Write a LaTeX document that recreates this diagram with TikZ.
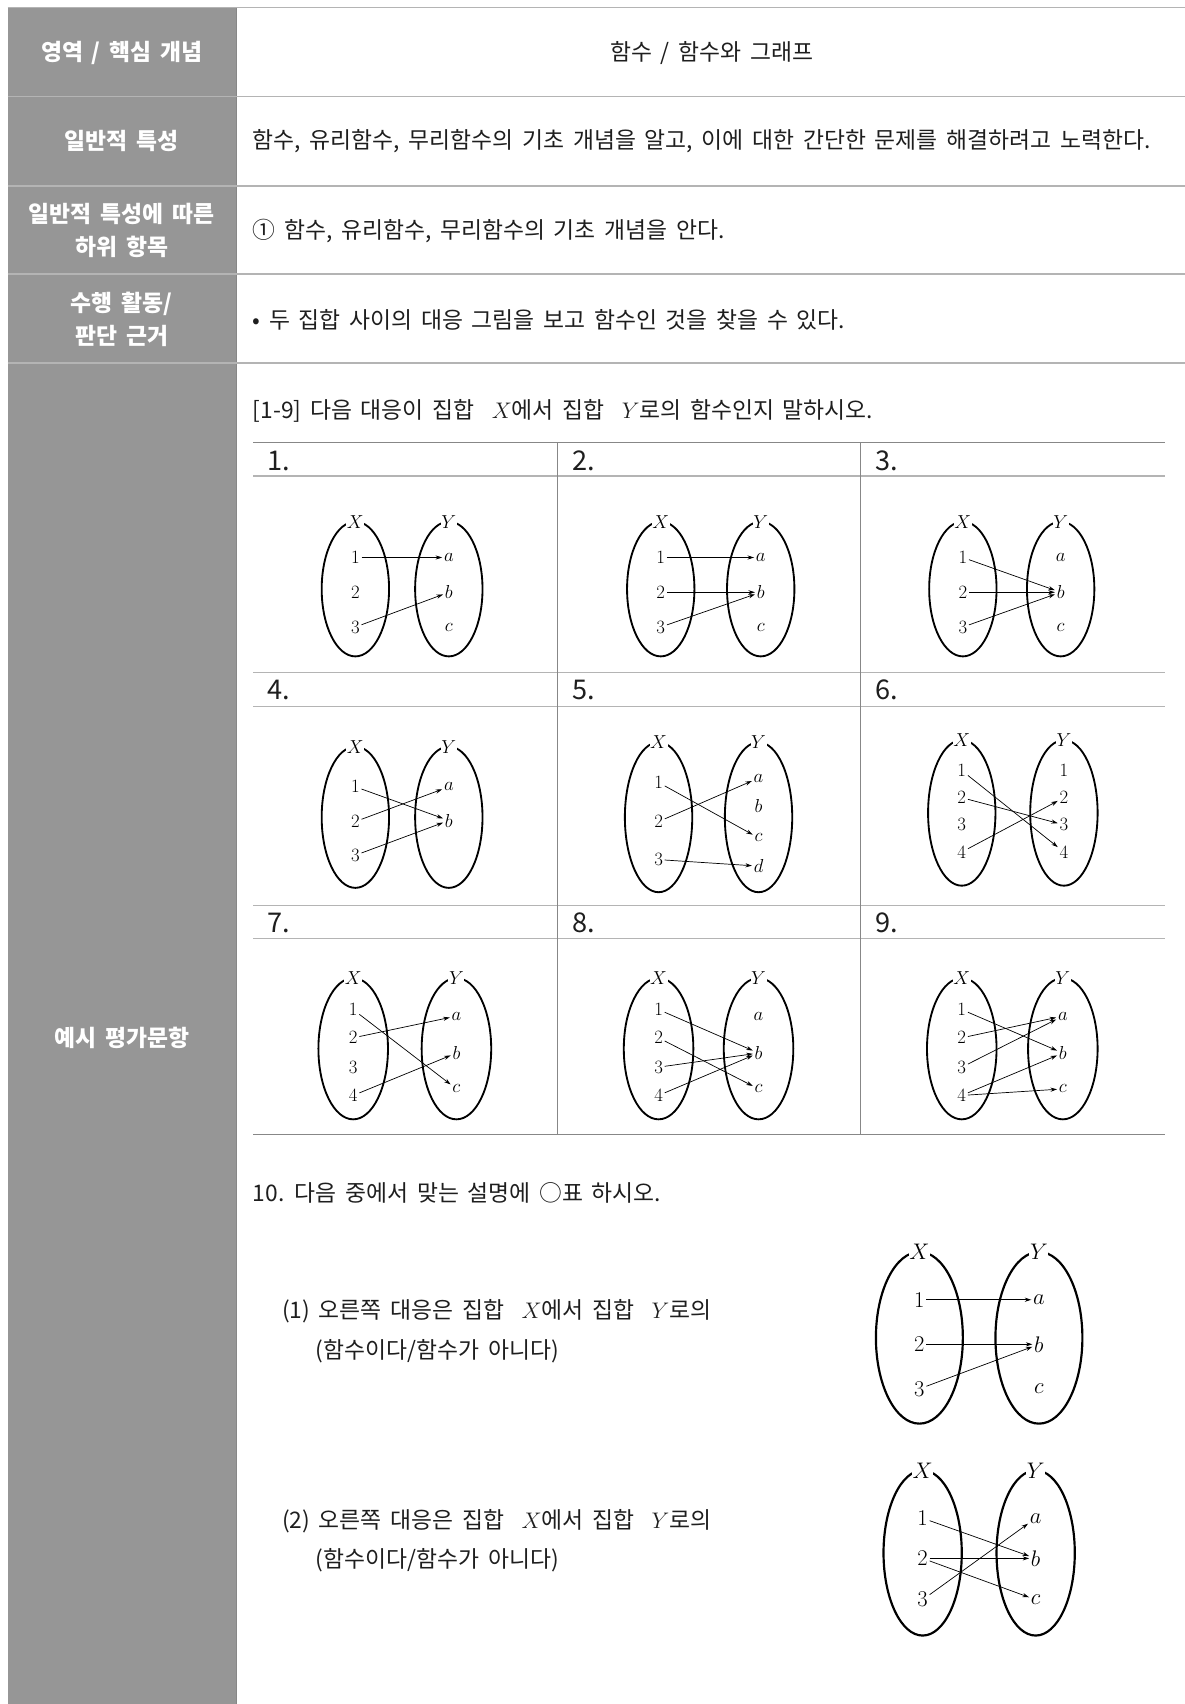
\documentclass[tikz,border=0pt]{standalone}
\usepackage[no-math]{fontspec}
\setmainfont[WordSpace=1.7]{Noto Sans CJK KR}
\usepackage{xcolor}
\usetikzlibrary{arrows.meta}

\definecolor{hdrgray}{RGB}{150,150,150}
\definecolor{rulegray}{RGB}{180,180,180}
\definecolor{gridgray}{RGB}{135,135,135}
\definecolor{inkgray}{RGB}{30,30,30}

% one pair of sets X, Y drawn as ellipses
\newcommand{\setpair}[6]{%
  \draw[setline] (#2,#4) ellipse ({#5} and {#6});
  \draw[setline] (#3,#4) ellipse ({#5} and {#6});
  \node[setname] (#1X) at (#2,#4-#6) {$X$};
  \node[setname] (#1Y) at (#3,#4-#6) {$Y$};}
\newcommand{\elems}[3]{\foreach \lbl/\yy in {#3} {\node[elem] (#1\lbl) at (#2,\yy) {$\lbl$};}}
\newcommand{\maps}[2]{\foreach \src/\dst in {#2} {\draw[maparr] (#1x\src) -- (#1y\dst);}}

\begin{document}
\begin{tikzpicture}[x=1pt, y=-1pt,
  hdr/.style={text=white, align=center, font=\fontsize{21}{30}\selectfont\bfseries},
  body/.style={anchor=west, text=inkgray, font=\fontsize{21}{25}\selectfont},
  num/.style={anchor=west, text=inkgray, font=\fontsize{25}{29}\selectfont},
  rowline/.style={draw=rulegray, line width=1.4pt},
  gridline/.style={draw=rulegray, line width=1pt},
  gridedge/.style={draw=gridgray, line width=1.3pt},
  setline/.style={line width=1.7pt},
  setname/.style={fill=white, inner sep=0.6pt, font=\fontsize{16}{18}\selectfont},
  elem/.style={inner sep=1.5pt, font=\fontsize{16.5}{18}\selectfont},
  maparr/.style={-{Stealth[length=6pt,width=3.8pt]}, line width=0.65pt},
]
\useasboundingbox (0,0) rectangle (1090,1568);

% header column
\fill[hdrgray] (7,7) rectangle (218,1568);
\draw[gridgray, line width=0.8pt] (218,7) -- (218,1568);
\draw[rowline] (7,7) -- (1090,7);
\foreach \yy in {89,171,252,334} {\draw[rowline] (7,\yy) -- (1090,\yy);}

\node[hdr] (area)  at (112,49)  {영역 / 핵심 개념};
\node[hdr] (gen)   at (112,130) {일반적 특성};
\node[hdr] (sub)   at (112,212) {일반적 특성에 따른\\하위 항목};
\node[hdr] (act)   at (112,294) {수행 활동/\\판단 근거};
\node[hdr] (ex)    at (112,955) {예시 평가문항};

\node[body, anchor=center] (topic) at (655,49) {함수 / 함수와 그래프};
\node[body] (gentxt) at (229,130) {함수, 유리함수, 무리함수의 기초 개념을 알고, 이에 대한 간단한 문제를 해결하려고 노력한다.};
\node[body] (subtxt) at (229,213) {① 함수, 유리함수, 무리함수의 기초 개념을 안다.};
\node[body] (acttxt) at (229,294) {• 두 집합 사이의 대응 그림을 보고 함수인 것을 찾을 수 있다.};

% questions 1-9
\node[body] (q19) at (229,378) {[1-9] 다음 대응이 집합 \ $X$에서 집합 \ $Y$로의 함수인지 말하시오.};
\draw[gridedge] (233,407) -- (1072,407);
\foreach \yy in {438,619,650,833,864} {\draw[gridline] (233,\yy) -- (1072,\yy);}
\draw[gridedge, line width=1.6pt] (233,1044) -- (1072,1044);
\draw[gridedge, line width=1pt] (513,407) -- (513,1044);
\draw[gridedge, line width=1pt] (792,407) -- (792,1044);

\node[num] (n1) at (243,424) {1.};
\node[num] (n2) at (523,424) {2.};
\node[num] (n3) at (802,424) {3.};
\node[num] (n4) at (243,635) {4.};
\node[num] (n5) at (523,635) {5.};
\node[num] (n6) at (802,635) {6.};
\node[num] (n7) at (243,849) {7.};
\node[num] (n8) at (523,849) {8.};
\node[num] (n9) at (802,849) {9.};

\setpair{d1}{327}{413}{542}{31}{62}
\elems{d1x}{327}{1/513,2/545,3/577}
\elems{d1y}{413}{a/513,b/545,c/577}
\maps{d1}{1/a,3/b}

\setpair{d2}{608}{700}{542}{31}{62}
\elems{d2x}{608}{1/513,2/545,3/577}
\elems{d2y}{700}{a/513,b/545,c/577}
\maps{d2}{1/a,2/b,3/b}

\setpair{d3}{886}{976}{542}{31}{62}
\elems{d3x}{886}{1/513,2/545,3/577}
\elems{d3y}{976}{a/513,b/545,c/577}
\maps{d3}{1/b,2/b,3/b}

\setpair{d4}{327}{413}{752}{31}{65}
\elems{d4x}{327}{1/724,2/756,3/787}
\elems{d4y}{413}{a/724,b/755}
\maps{d4}{1/b,2/a,3/b}

\setpair{d5}{606}{698}{752}{31}{69}
\elems{d5x}{606}{1/720,2/756,3/791}
\elems{d5y}{698}{a/716,b/742,c/771,d/797}
\maps{d5}{1/c,2/a,3/d}

\setpair{d6}{885}{979}{748}{31}{67}
\elems{d6x}{885}{1/709,2/734,3/759,4/784}
\elems{d6y}{979}{1/709,2/734,3/759,4/784}
\maps{d6}{1/4,2/3,4/2}

\setpair{d7}{325}{420}{965}{32}{65}
\elems{d7x}{325}{1/929,2/955,3/982,4/1008}
\elems{d7y}{420}{a/935,b/969,c/1002}
\maps{d7}{1/c,2/a,4/b}

\setpair{d8}{606}{698}{965}{32}{65}
\elems{d8x}{606}{1/929,2/955,3/982,4/1008}
\elems{d8y}{698}{a/935,b/969,c/1002}
\maps{d8}{1/b,2/c,3/b,4/b}

\setpair{d9}{885}{978}{965}{32}{65}
\elems{d9x}{885}{1/929,2/955,3/982,4/1008}
\elems{d9y}{978}{a/935,b/969,c/1002}
\maps{d9}{1/b,2/a,3/a,4/b,4/c}

% question 10
\node[body] (q10) at (229,1098) {10. 다음 중에서 맞는 설명에 ○표 하시오.};
\node[body] (q10a) at (256,1207) {(1) 오른쪽 대응은 집합 \ $X$에서 집합 \ $Y$로의};
\node[body] (q10aa) at (287,1243) {(함수이다/함수가 아니다)};
\node[body] (q10b) at (256,1400) {(2) 오른쪽 대응은 집합 \ $X$에서 집합 \ $Y$로의};
\node[body] (q10bb) at (287,1436) {(함수이다/함수가 아니다)};

\begin{scope}[elem/.append style={font=\fontsize{21}{23}\selectfont},
  setname/.append style={font=\fontsize{21}{23}\selectfont},
  setline/.append style={line width=2pt}]
\setpair{e1}{846}{956}{1231}{40}{79}
\elems{e1x}{846}{1/1196,2/1237,3/1278}
\elems{e1y}{956}{a/1196,b/1237,c/1278}
\maps{e1}{1/a,2/b,3/b}

\setpair{e2}{849}{953}{1429}{36}{76}
\elems{e2x}{849}{1/1397,2/1434,3/1472}
\elems{e2y}{953}{a/1397,b/1434,c/1472}
\maps{e2}{1/b,2/b,2/c,3/a}
\end{scope}
\end{tikzpicture}
\end{document}
